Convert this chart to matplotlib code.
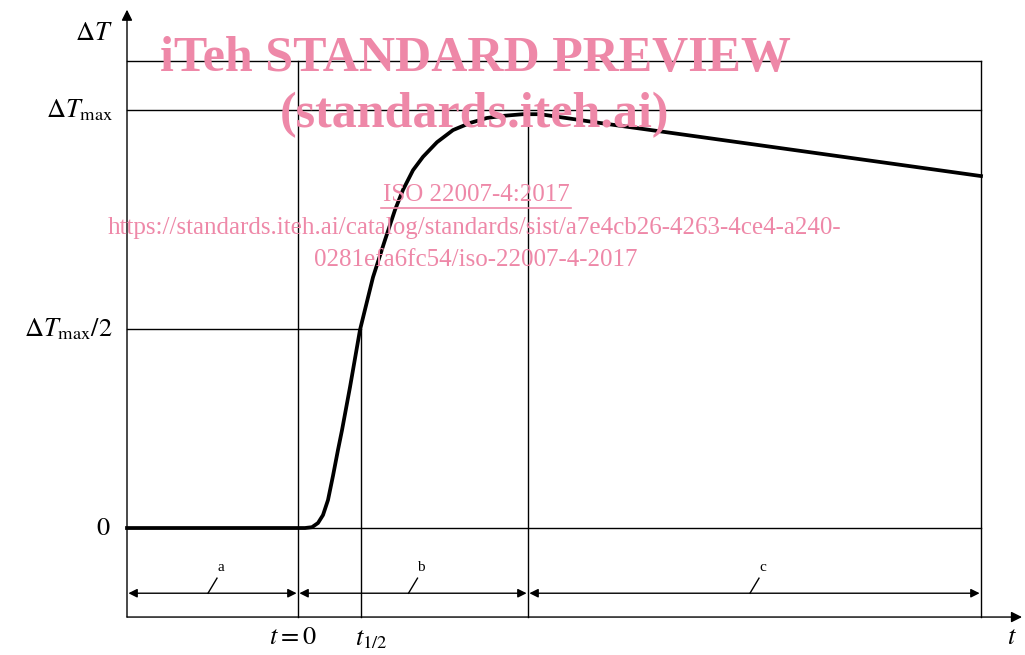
import matplotlib.pyplot as plt
import numpy as np

plt.rcParams['mathtext.fontset'] = 'stix'

# time axis units (t = 0 at start of heating); dT normalised to dT_max
t_curve = [-1.71, 0.0, 0.07, 0.14, 0.20, 0.25, 0.30, 0.35, 0.40, 0.44, 0.52,
           0.62, 0.75, 0.87, 0.97, 1.05, 1.15, 1.25, 1.39, 1.55, 1.72, 1.89,
           2.05, 2.25, 2.42, 3.02, 3.95, 6.83]
dT_curve = [0.0, 0.0, 0.0, 0.002, 0.012, 0.031, 0.067, 0.125, 0.187, 0.234,
            0.337, 0.474, 0.600, 0.689, 0.761, 0.809, 0.856, 0.888, 0.923,
            0.952, 0.969, 0.981, 0.986, 0.990, 0.990, 0.969, 0.938, 0.842]

t_start = -1.71      # y axis position
t_zero = 0.0
t_half = 0.63
t_peak = 2.30
t_end = 6.83
t_arrow = 7.24

dT_max = 1.0
dT_half = 0.476
dT_top = 1.117
dT_axis = -0.213
dT_arrow = 1.24
dT_dim = -0.156

zones = [('a', t_start, t_zero), ('b', t_zero, t_peak), ('c', t_peak, t_end)]

fig = plt.figure(figsize=(10.25, 6.55), dpi=100)
ax = fig.add_axes([0, 0, 1, 1])
ax.set_xlim(-2.98, 7.27)
ax.set_ylim(-0.3038, 1.2632)
ax.axis('off')

lw = 1.0
k = 'black'

# axes with arrows
ax.annotate('', xy=(t_start, dT_arrow), xytext=(t_start, dT_axis),
            arrowprops=dict(arrowstyle='-|>', color=k, lw=lw, mutation_scale=16,
                            shrinkA=0, shrinkB=0))
ax.annotate('', xy=(t_arrow, dT_axis), xytext=(t_start, dT_axis),
            arrowprops=dict(arrowstyle='-|>', color=k, lw=lw, mutation_scale=16,
                            shrinkA=0, shrinkB=0))

# frame / reference lines
ax.plot([t_start, t_end], [dT_top, dT_top], color=k, lw=lw)
ax.plot([t_start, t_end], [dT_max, dT_max], color=k, lw=lw)
ax.plot([t_start, t_half], [dT_half, dT_half], color=k, lw=lw)
ax.plot([t_start, t_end], [0, 0], color=k, lw=lw)
ax.plot([t_zero, t_zero], [dT_axis, dT_top], color=k, lw=lw)
ax.plot([t_half, t_half], [dT_axis, dT_half], color=k, lw=lw)
ax.plot([t_peak, t_peak], [dT_axis, dT_max], color=k, lw=lw)
ax.plot([t_end, t_end], [dT_axis, dT_top], color=k, lw=lw)

# curve
ax.plot(t_curve, dT_curve, color=k, lw=2.7, solid_joinstyle='round')

# dimension arrows for zones
for name, t0, t1 in zones:
    ax.annotate('', xy=(t1, dT_dim), xytext=(t0, dT_dim),
                arrowprops=dict(arrowstyle='<|-|>', color=k, lw=lw,
                                mutation_scale=13, shrinkA=1, shrinkB=1))
    tm = (t0 + t1) / 2
    ax.plot([tm - 0.045, tm + 0.045], [dT_dim, dT_dim + 0.036], color=k, lw=lw)
    ax.text(tm + 0.08, dT_dim + 0.046, name, ha='center', va='bottom',
            fontsize=11, family='Liberation Serif')

# axis labels
fs = 19
ax.text(-1.85, 1.185, r'$\Delta T$', ha='right', va='center', fontsize=fs)
ax.text(-1.85, dT_max, r'$\Delta T_{\mathrm{max}}$', ha='right', va='center', fontsize=fs)
ax.text(-1.85, dT_half, r'$\Delta T_{\mathrm{max}}/2$', ha='right', va='center', fontsize=fs)
ax.text(-1.87, 0, r'$0$', ha='right', va='center', fontsize=fs)
ax.text(-0.05, -0.26, r'$t = 0$', ha='center', va='center', fontsize=fs)
ax.text(0.73, -0.265, r'$t_{1/2}$', ha='center', va='center', fontsize=fs)
ax.text(7.14, -0.26, r'$t$', ha='center', va='center', fontsize=fs)

# watermark
pink = '#EE88A8'
ax.text(1.77, 1.123, 'iTeh STANDARD PREVIEW', ha='center', va='center',
        fontsize=36, fontweight='bold', family='Liberation Serif', color=pink)
ax.text(1.77, 0.988, '(standards.iteh.ai)', ha='center', va='center',
        fontsize=36, fontweight='bold', family='Liberation Serif', color=pink)
ax.text(1.78, 0.797, 'ISO 22007-4:2017', ha='center', va='center',
        fontsize=18, family='Liberation Serif', color=pink)
ax.plot([0.83, 2.73], [0.766, 0.766], color=pink, lw=1.2)
ax.text(1.77, 0.718, 'https://standards.iteh.ai/catalog/standards/sist/a7e4cb26-4263-4ce4-a240-',
        ha='center', va='center', fontsize=18, family='Liberation Serif', color=pink)
ax.text(1.78, 0.640, '0281efa6fc54/iso-22007-4-2017', ha='center', va='center',
        fontsize=18, family='Liberation Serif', color=pink)

fig.savefig('out.png', dpi=100)
